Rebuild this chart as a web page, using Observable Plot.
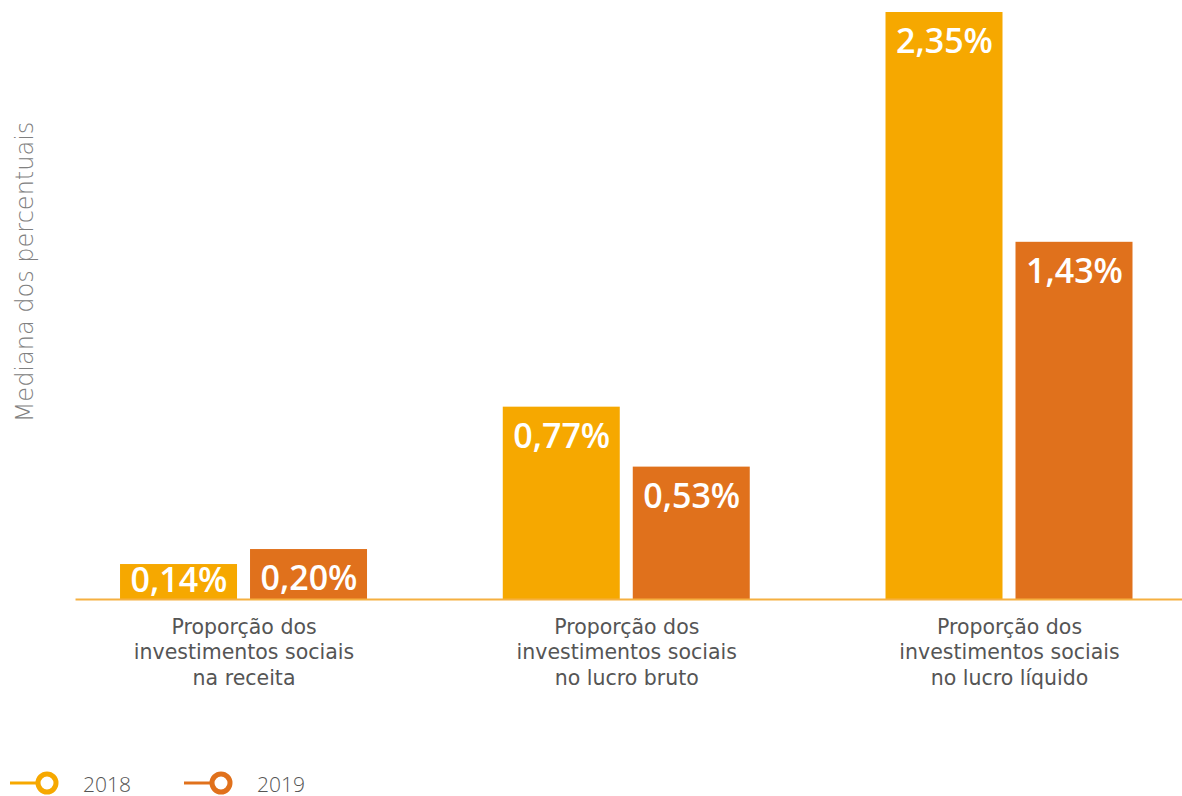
<!DOCTYPE html>
<html>
<head>
<meta charset="utf-8">
<script src="https://cdn.jsdelivr.net/npm/d3@7"></script>
<script src="https://cdn.jsdelivr.net/npm/@observablehq/plot@0.6"></script>
<style>
  html, body { margin: 0; padding: 0; background: #fff; }
  #wrap { width: 1182px; font-family: "DejaVu Sans", sans-serif; }
  #legend { position: relative; height: 51px; }
  .item { position: absolute; top: 26px; height: 24px; display: flex; align-items: center; }
  .item span { font-family: "Open Sans", sans-serif; font-size: 21px; font-weight: 300; color: #555; margin-left: 13px; position: relative; top: 1px; }
</style>
</head>
<body>
<div id="wrap"></div>
<script>
const categories = [
  "Proporção dos\ninvestimentos sociais\nna receita",
  "Proporção dos\ninvestimentos sociais\nno lucro bruto",
  "Proporção dos\ninvestimentos sociais\nno lucro líquido"
];
const years = ["2018", "2019"];
const values2018 = [0.14, 0.77, 2.35];
const values2019 = [0.20, 0.53, 1.43];
const colors = ["#f6a800", "#e0711c"];
const yLabel = "Mediana dos percentuais";

const data = categories.flatMap((c, i) => [
  {cat: c, year: years[0], value: values2018[i]},
  {cat: c, year: years[1], value: values2019[i]}
]);
const fmt = v => d3.format(".2f")(v).replace(".", ",") + "%";

const chart = Plot.plot({
  width: 1182,
  height: 745,
  marginLeft: 76,
  marginRight: 0,
  marginTop: 12,
  marginBottom: 146,
  style: {fontFamily: "DejaVu Sans", background: "#fff"},
  fx: {domain: categories, paddingInner: 0.3207, paddingOuter: 0.1052, align: 0.466, round: false, label: null},
  x: {domain: years, paddingInner: 0.1, paddingOuter: 0.05, round: false, axis: null},
  y: {domain: [0, 2.35], axis: null},
  color: {domain: years, range: colors},
  marks: [
    Plot.barY(data, {fx: "cat", x: "year", y: "value", fill: "year"}),
    Plot.text(data, {
      fx: "cat", x: "year",
      y: d => Math.max(d.value, 0.195),
      dy: 30,
      text: d => fmt(d.value),
      fill: "white",
      fontSize: 34,
      fontWeight: 600,
      fontFamily: "Open Sans"
    }),
    Plot.frame({anchor: "bottom", facet: "super", insetLeft: -37.5, insetRight: -43, stroke: "#f5b041", strokeWidth: 2}),
    Plot.axisFx({
      anchor: "bottom", tickSize: 0, tickPadding: 16,
      fontSize: 20.5, lineHeight: 1.25, fill: "#555", label: null,
      style: {letterSpacing: "2.1px"}
    }),
    Plot.text([yLabel], {
      facet: "super",
      frameAnchor: "left",
      textAnchor: "middle",
      rotate: -90,
      dx: -89,
      dy: -34,
      text: d => d,
      fontSize: 24,
      fontWeight: 200,
      fill: "#808080",
      style: {letterSpacing: "2.1px"}
    })
  ]
});

const wrap = document.getElementById("wrap");
wrap.appendChild(chart);

const legend = document.createElement("div");
legend.id = "legend";
const lefts = [10, 184];
years.forEach((y, i) => {
  const item = document.createElement("div");
  item.className = "item";
  item.style.left = lefts[i] + "px";
  const ns = "http://www.w3.org/2000/svg";
  const svg = document.createElementNS(ns, "svg");
  svg.setAttribute("width", 60);
  svg.setAttribute("height", 24);
  const line = document.createElementNS(ns, "line");
  line.setAttribute("x1", 0); line.setAttribute("x2", 28);
  line.setAttribute("y1", 12); line.setAttribute("y2", 12);
  line.setAttribute("stroke", colors[i]); line.setAttribute("stroke-width", 3);
  const circ = document.createElementNS(ns, "circle");
  circ.setAttribute("cx", 37); circ.setAttribute("cy", 12); circ.setAttribute("r", 9);
  circ.setAttribute("fill", "white"); circ.setAttribute("stroke", colors[i]); circ.setAttribute("stroke-width", 5);
  svg.appendChild(line); svg.appendChild(circ);
  const span = document.createElement("span");
  span.textContent = y;
  item.appendChild(svg); item.appendChild(span);
  legend.appendChild(item);
});
wrap.appendChild(legend);
</script>
</body>
</html>
